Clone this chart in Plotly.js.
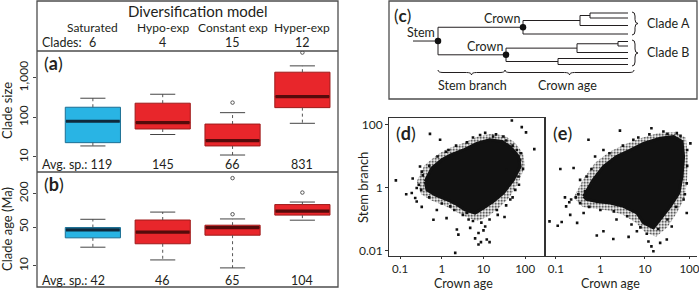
<!DOCTYPE html>
<html><head><meta charset="utf-8">
<script src="https://cdn.plot.ly/plotly-3.0.1.min.js"></script>
<style>html,body{margin:0;padding:0;background:#fff;}#chart{width:699px;height:290px;}</style>
</head><body><div id="chart"></div>
<script>
// ---------------- data: panels (a) and (b) ----------------
const categories = ['Saturated', 'Hypo-exp', 'Constant exp', 'Hyper-exp'];
const cladeCounts = [6, 4, 15, 12];

const sizeQ1  = [23, 51, 19, 177];
const sizeMed = [80, 74, 26, 336];
const sizeQ3  = [181, 229, 68, 1393];
const sizeLo  = [19, 37, 11.2, 71];
const sizeHi  = [306, 386, 132, 2015];
const sizeOutCat = [2, 3];
const sizeOutVal = [237, 4370];
const sizeAvgSp = [119, 145, 66, 831];

const ageQ1  = [32, 25, 35.7, 82];
const ageMed = [44.6, 40.5, 49, 97];
const ageQ3  = [49, 67, 54, 127];
const ageLo  = [21.7, 12.8, 9.2, 66.5];
const ageHi  = [69, 93, 70, 141];
const ageOutCat = [2, 2, 3];
const ageOutVal = [380, 85, 209];
const ageAvgSp = [42, 46, 65, 104];

// ---------------- data: panel (c) tree ----------------
const treeNode   = ['root','crownA','nA1','nA2','a1','a2','a3','a4','crownB','nB1','nB2','nB3','b1','b2','b3','b4','b5'];
const treeParent = [null,'root','crownA','nA1','nA2','nA2','nA1','crownA','root','crownB','nB1','crownB','nB2','nB2','nB1','nB3','nB3'];
const treeDepth  = [438, 523, 580, 590, 628, 628, 628, 628, 506, 577, 618, 558, 628, 628, 628, 628, 628];
const tipRow     = {a1:13, a2:18, a3:25.5, a4:34, b1:41.5, b2:46, b3:52.5, b4:58.5, b5:64.5};
const stemStart  = 413;
const markedNodes = ['root', 'crownA', 'crownB'];

// ---------------- data: panels (d) and (e) ----------------
// solid dense core outline (crown age, stem branch)
const dCoreCrown = [0.40,0.58,1.0,1.6,3.3,6.9,14,28,44,69,76,52,30,17,10,6.3,3.6,2.3,1.3,0.69,0.44];
const dCoreStem  = [1.6,4.3,7.8,11,16,26,34,30,20,10,4.8,1.8,0.69,0.37,0.23,0.16,0.2,0.3,0.43,0.6,0.87];
// speckled fringe outline
const dHaloCrown = [0.25,0.38,0.76,1.41,3.2,7.1,15.8,31.6,56,89,100,71,42,24,13.2,7.1,3.5,2,1.12,0.56,0.32];
const dHaloStem  = [1.6,5.2,11.2,17.8,26,42,52,46,28,12.6,5,1.6,0.5,0.24,0.126,0.089,0.126,0.19,0.28,0.4,0.63];
// scattered points
const dCrown = [0.079,0.52,48,83,105,166,2.1,0.32,0.23,0.33,0.63,1.3,2.3,2.5,7.6,8.7,7.6,12,14,32,11,4.4,0.91,1.45,0.33,0.30,0.44,0.19,0.25,30,8.3,17,63,76,69,58,44,36,0.76,1.6,21,4.8,4.0,
  0.28,0.35,0.5,0.79,1.26,2.2,4,5.6,11,20,35,50,79,89,71,50,35,22,14,8.9,5.6,3.2,2,1,0.5,0.25,0.2,0.14,10,6.3];
const dStem  = [1.74,52,138,85,58,17,0.0087,0.87,0.48,0.25,0.098,0.11,0.048,0.033,0.037,0.019,0.016,0.023,0.019,0.12,0.06,0.1,34,16,3.3,4.8,2.0,0.69,0.37,43,48,43,16,7.8,2.3,0.87,0.43,3.8,0.2,0.26,0.2,0.054,0.16,
  1.26,2.5,5,10,14,22,28,40,56,50,32,22,12.6,4,1.26,0.5,0.28,0.14,0.1,0.079,0.089,0.14,0.2,0.32,0.5,1.0,2.0,0.63,0.045,0.025];

const eCoreCrown = [0.42,0.69,1.17,2.3,4.7,9.3,22,44,68,74,68,58,37,22,15.5,9.3,6.6,3.3,1.66,0.83,0.49];
const eCoreStem  = [0.54,1.8,4.8,10,16,26,38,43,30,10,2.3,0.69,0.26,0.1,0.054,0.078,0.16,0.26,0.33,0.37,0.43];
const eHaloCrown = [0.25,0.42,0.76,1.6,3.5,7.9,20,45,83,93,89,79,52,31.6,17.8,10,6.3,3.2,1.6,0.79,0.4];
const eHaloStem  = [0.5,2,6.3,14,24,38,55,60,40,10,2,0.5,0.16,0.056,0.028,0.04,0.079,0.14,0.19,0.22,0.25];
const eCrown = [0.072,0.135,0.126,0.25,0.3,0.21,0.42,0.83,1.95,4.3,2.75,0.54,14,26,105,87,87,6.6,14,15.5,12,22,31,1.17,0.59,0.45,0.35,0.17,0.22,0.76,1.17,5.5,52,74,40,2.3,5,0.49,0.35,
  0.32,0.28,0.2,0.63,1.6,3.2,7.1,12.6,32,63,89,89,79,50,32,20,11,7.9,4,2,1,0.56,0.11,0.16];
const eStem  = [0.087,0.083,4.0,4.3,0.078,0.14,0.16,0.031,0.024,0.028,66,34,78,62,26,1.4,0.16,0.042,0.014,0.0098,0.02,0.018,0.023,0.042,1.12,0.78,0.33,0.26,0.43,10,16,34,55,0.43,0.06,0.1,0.069,2.3,1.8,
  0.63,0.5,0.35,4,12.6,22,40,50,52,45,16,5,0.63,0.25,0.1,0.05,0.035,0.056,0.126,0.18,0.2,0.25,0.063,0.5];

// ---------------- drawing ----------------
const W = 699, H = 290;
const px = v => v / W, py = v => 1 - v / H;
const FONT = 'Lato, "Open Sans", sans-serif';
const TXT = '#231f20';
const FRAME = '#4d4d4d';
const BOXW = 0.79, CAPW = 0.18;
const CYAN = '#29b4e4', CYAN_LINE = '#1d6f93', CYAN_MED = '#0f2a3d';
const RED = '#e8262b', RED_LINE = '#9e1b1b', RED_MED = '#560b0b';

const traces = [];
function boxPanel(xa, ya, q1, med, q3, lo, hi, outCat, outVal) {
  const wx = [], wy = [], cx = [], cy = [];
  categories.forEach((c, i) => {
    const p = i + 1;
    wx.push(p, p, null, p, p, null); wy.push(q3[i], hi[i], null, q1[i], lo[i], null);
    cx.push(p - CAPW, p + CAPW, null, p - CAPW, p + CAPW, null); cy.push(hi[i], hi[i], null, lo[i], lo[i], null);
  });
  traces.push({type:'scatter', mode:'lines', x:wx, y:wy, xaxis:xa, yaxis:ya, line:{color:'#555', width:1, dash:'dot'}, hoverinfo:'skip', showlegend:false});
  traces.push({type:'scatter', mode:'lines', x:cx, y:cy, xaxis:xa, yaxis:ya, line:{color:'#444', width:1}, hoverinfo:'skip', showlegend:false});
  const groups = [{idx:[0], fill:CYAN, line:CYAN_LINE, med:CYAN_MED}, {idx:[1,2,3], fill:RED, line:RED_LINE, med:RED_MED}];
  groups.forEach(g => {
    traces.push({type:'box', x:g.idx.map(i => i + 1), q1:g.idx.map(i => q1[i]), median:g.idx.map(i => med[i]), q3:g.idx.map(i => q3[i]),
      lowerfence:g.idx.map(i => q1[i]), upperfence:g.idx.map(i => q3[i]), width:BOXW, whiskerwidth:0,
      fillcolor:g.fill, line:{color:g.line, width:1}, boxpoints:false, xaxis:xa, yaxis:ya, hoverinfo:'skip', showlegend:false});
    const mx = [], my = [];
    g.idx.forEach(i => { mx.push(i + 1 - BOXW / 2 + 0.01, i + 1 + BOXW / 2 - 0.01, null); my.push(med[i], med[i], null); });
    traces.push({type:'scatter', mode:'lines', x:mx, y:my, xaxis:xa, yaxis:ya, line:{color:g.med, width:3.2}, hoverinfo:'skip', showlegend:false});
  });
  traces.push({type:'scatter', mode:'markers', x:outCat.map(i => i + 1), y:outVal, xaxis:xa, yaxis:ya,
    marker:{symbol:'circle-open', size:3.5, color:'#555', line:{width:1}}, hoverinfo:'skip', showlegend:false});
}
boxPanel('x', 'y', sizeQ1, sizeMed, sizeQ3, sizeLo, sizeHi, sizeOutCat, sizeOutVal);
boxPanel('x2', 'y2', ageQ1, ageMed, ageQ3, ageLo, ageHi, ageOutCat, ageOutVal);

// tree
const nodeY = {};
function yOf(name) {
  if (nodeY[name] !== undefined) return nodeY[name];
  if (tipRow[name] !== undefined) return (nodeY[name] = tipRow[name]);
  const kids = treeNode.filter((n, i) => treeParent[i] === name).map(yOf);
  return (nodeY[name] = (Math.min(...kids) + Math.max(...kids)) / 2);
}
const tx = [], ty = [];
treeNode.forEach((n, i) => {
  const y = yOf(n);
  const parentX = treeParent[i] === null ? stemStart : treeDepth[treeNode.indexOf(treeParent[i])];
  tx.push(parentX, treeDepth[i], null); ty.push(y, y, null);
  const kids = treeNode.filter((m, j) => treeParent[j] === n).map(yOf);
  if (kids.length) { tx.push(treeDepth[i], treeDepth[i], null); ty.push(Math.min(...kids), Math.max(...kids), null); }
});
traces.push({type:'scatter', mode:'lines', x:tx, y:ty, xaxis:'x3', yaxis:'y3', line:{color:'#231f20', width:1}, hoverinfo:'skip', showlegend:false});
traces.push({type:'scatter', mode:'markers', x:markedNodes.map(n => treeDepth[treeNode.indexOf(n)]), y:markedNodes.map(yOf), xaxis:'x3', yaxis:'y3',
  marker:{color:'#111', size:6.5}, hoverinfo:'skip', showlegend:false});

// scatter panels
function scatterPanel(xa, ya, haloX, haloY, coreX, coreY, ptX, ptY) {
  traces.push({type:'scatter', mode:'lines', x:haloX.concat([haloX[0]]), y:haloY.concat([haloY[0]]), fill:'toself', fillcolor:'rgba(0,0,0,0)',
    fillpattern:{shape:'.', fgcolor:'#111', bgcolor:'rgba(0,0,0,0)', size:3, solidity:0.32},
    line:{color:'rgba(0,0,0,0)', width:0}, xaxis:xa, yaxis:ya, hoverinfo:'skip', showlegend:false});
  traces.push({type:'scatter', mode:'lines', x:coreX.concat([coreX[0]]), y:coreY.concat([coreY[0]]), fill:'toself', fillcolor:'#111',
    line:{color:'#111', width:3}, xaxis:xa, yaxis:ya, hoverinfo:'skip', showlegend:false});
  traces.push({type:'scatter', mode:'markers', x:ptX, y:ptY, xaxis:xa, yaxis:ya, marker:{symbol:'square', size:2.6, color:'#111'}, hoverinfo:'skip', showlegend:false});
}
scatterPanel('x4', 'y4', dHaloCrown, dHaloStem, dCoreCrown, dCoreStem, dCrown, dStem);
scatterPanel('x5', 'y5', eHaloCrown, eHaloStem, eCoreCrown, eCoreStem, eCrown, eStem);

// ---------------- layout ----------------
const hidden = {showgrid:false, zeroline:false, showticklabels:false, ticks:'', showline:false, fixedrange:true};
const tf = {family:FONT, size:12, color:TXT};
const tfs = {family:FONT, size:11.5, color:TXT};
const annotations = [];
function ann(text, x, y, o) { annotations.push(Object.assign({text, x, y, xref:'paper', yref:'paper', showarrow:false, font:{family:FONT, size:12.5, color:TXT}, xanchor:'center', yanchor:'middle'}, o || {})); }

ann('Diversification model', px(198), py(11), {font:{family:FONT, size:15, color:TXT}});
categories.forEach((c, i) => {
  ann(c, i + 1, py(28), {xref:'x', font:{family:FONT, size:12, color:TXT}});
  ann(String(cladeCounts[i]), i + 1, py(43), {xref:'x'});
  if (i > 0) {
    ann(String(sizeAvgSp[i]), i + 1, py(164), {xref:'x'});
    ann(String(ageAvgSp[i]), i + 1, py(280), {xref:'x'});
  }
});
ann('Clades:', px(40), py(43), {xanchor:'left'});
ann('Avg. sp.: ' + sizeAvgSp[0], px(40), py(164), {xanchor:'left'});
ann('Avg. sp.: ' + ageAvgSp[0], px(40), py(280), {xanchor:'left'});
ann('(<b>a</b>)', px(42), py(63), {xanchor:'left', font:{family:FONT, size:18, color:TXT}});
ann('(<b>b</b>)', px(42), py(184), {xanchor:'left', font:{family:FONT, size:18, color:TXT}});
ann('Clade size', px(7), py(111), {textangle:-90, font:{family:FONT, size:13, color:TXT}});
ann('Clade age (Ma)', px(7), py(229), {textangle:-90, font:{family:FONT, size:13, color:TXT}});

// panel c texts (diagram coordinates)
function cann(text, x, y, o) { ann(text, x, y, Object.assign({xref:'x3', yref:'y3'}, o || {})); }
cann('(<b>c</b>)', 392, 15, {xanchor:'left', font:{family:FONT, size:17, color:TXT}});
cann('Stem', 421, 32);
cann('Crown', 502, 18);
cann('Crown', 485, 46.5);
cann('Clade A', 645, 23.5, {xanchor:'left'});
cann('Clade B', 645, 52, {xanchor:'left'});
cann('Stem branch', 472, 85);
cann('Crown age', 567, 85);

// panels d e texts
ann('(<b>d</b>)', px(394), py(133), {xanchor:'left', font:{family:FONT, size:18, color:TXT}});
ann('(<b>e</b>)', px(551), py(133), {xanchor:'left', font:{family:FONT, size:18, color:TXT}});
ann('Stem branch', px(363), py(187), {textangle:-90, font:{family:FONT, size:13, color:TXT}});
ann('Crown age', px(463), py(283), {font:{family:FONT, size:12.5, color:TXT}});
ann('Crown age', px(610), py(283), {font:{family:FONT, size:12.5, color:TXT}});

function hbrace(x0, x1, y, d) {
  const xm = (x0 + x1) / 2, q = 5, h = y + d / 2;
  return `M${x0},${y} Q${x0},${h} ${x0 + q},${h} L${xm - q},${h} Q${xm},${h} ${xm},${y + d} Q${xm},${h} ${xm + q},${h} L${x1 - q},${h} Q${x1},${h} ${x1},${y}`;
}
function vbrace(y0, y1, x, d) {
  const ym = (y0 + y1) / 2, q = 4, w = x + d / 2;
  return `M${x},${y0} Q${w},${y0} ${w},${y0 + q} L${w},${ym - q} Q${w},${ym} ${x + d},${ym} Q${w},${ym} ${w},${ym + q} L${w},${y1 - q} Q${w},${y1} ${x},${y1}`;
}
const braceLine = {color:'#231f20', width:1};
const shapes = [
  {type:'rect', xref:'paper', yref:'paper', x0:px(37), x1:px(338), y0:py(287), y1:py(1), line:{color:FRAME, width:1.3}},
  {type:'line', xref:'paper', yref:'paper', x0:px(37), x1:px(338), y0:py(51), y1:py(51), line:{color:FRAME, width:1.3}},
  {type:'line', xref:'paper', yref:'paper', x0:px(37), x1:px(338), y0:py(172), y1:py(172), line:{color:FRAME, width:1.3}},
  {type:'rect', xref:'paper', yref:'paper', x0:px(389), x1:px(697), y0:py(99), y1:py(1), line:{color:FRAME, width:1.3}},
  {type:'path', xref:'x3', yref:'y3', path:vbrace(12, 35, 632, 6), line:braceLine},
  {type:'path', xref:'x3', yref:'y3', path:vbrace(40, 66, 632, 6), line:braceLine},
  {type:'path', xref:'x3', yref:'y3', path:hbrace(438, 505, 70, 5), line:braceLine},
  {type:'path', xref:'x3', yref:'y3', path:hbrace(505, 634, 70, 5), line:braceLine}
];

const layout = {
  width:W, height:H, margin:{l:0, r:0, t:0, b:0}, paper_bgcolor:'#fff', plot_bgcolor:'rgba(0,0,0,0)',
  showlegend:false, font:{family:FONT, color:TXT},
  xaxis:Object.assign({}, hidden, {domain:[px(37), px(338)], range:[0.2, 4.51], anchor:'y'}),
  yaxis:{domain:[py(172), py(51)], type:'log', range:[0.62, 3.68], tickvals:[10, 100, 1000], ticktext:['10', '100', '1,000'],
    ticks:'outside', ticklen:3, tickcolor:'#444', tickangle:-90, tickfont:tf, showgrid:false, zeroline:false, showline:false, anchor:'x', fixedrange:true},
  xaxis2:Object.assign({}, hidden, {domain:[px(37), px(338)], range:[0.2, 4.51], anchor:'y2'}),
  yaxis2:{domain:[py(287), py(172)], type:'log', range:[0.62, 2.69], tickvals:[10, 50, 200], ticktext:['10', '50', '200'],
    ticks:'outside', ticklen:3, tickcolor:'#444', tickangle:-90, tickfont:tf, showgrid:false, zeroline:false, showline:false, anchor:'x2', fixedrange:true},
  xaxis3:Object.assign({}, hidden, {domain:[px(389), px(697)], range:[389, 697], anchor:'y3'}),
  yaxis3:Object.assign({}, hidden, {domain:[py(99), py(1)], range:[99, 1], anchor:'x3'}),
  xaxis4:{domain:[px(389.3), px(544.3)], type:'log', range:[-1.26, 2.46], tickvals:[0.1, 1, 10, 100], ticktext:['0.1', '1', '10', '100'],
    ticks:'outside', ticklen:2, tickcolor:'#333', tickfont:tfs, showline:true, linecolor:'#333', linewidth:1.2, mirror:true,
    showgrid:false, zeroline:false, anchor:'y4', fixedrange:true, ticklabeloverflow:'allow'},
  yaxis4:{domain:[py(256), py(118.3)], type:'log', range:[-2.16, 2.21], tickvals:[0.01, 1, 100], ticktext:['0.01', '1', '100'],
    ticks:'outside', ticklen:3, tickcolor:'#333', tickfont:tf, showline:true, linecolor:'#333', linewidth:1.2, mirror:true,
    showgrid:false, zeroline:false, anchor:'x4', fixedrange:true},
  xaxis5:{domain:[px(544.3), px(697)], type:'log', range:[-1.26, 2.17], tickvals:[0.1, 1, 10, 100], ticktext:['0.1', '1', '10', '100'],
    ticks:'outside', ticklen:2, tickcolor:'#333', tickfont:tfs, showline:true, linecolor:'#333', linewidth:1.2,
    showgrid:false, zeroline:false, anchor:'y5', fixedrange:true, ticklabeloverflow:'allow'},
  yaxis5:{domain:[py(256), py(118.3)], type:'log', range:[-2.16, 2.21], showticklabels:false, ticks:'', showline:false,
    showgrid:false, zeroline:false, anchor:'x5', fixedrange:true},
  annotations, shapes
};

Plotly.newPlot('chart', traces, layout, {displayModeBar:false, staticPlot:true, responsive:false});
</script></body></html>
